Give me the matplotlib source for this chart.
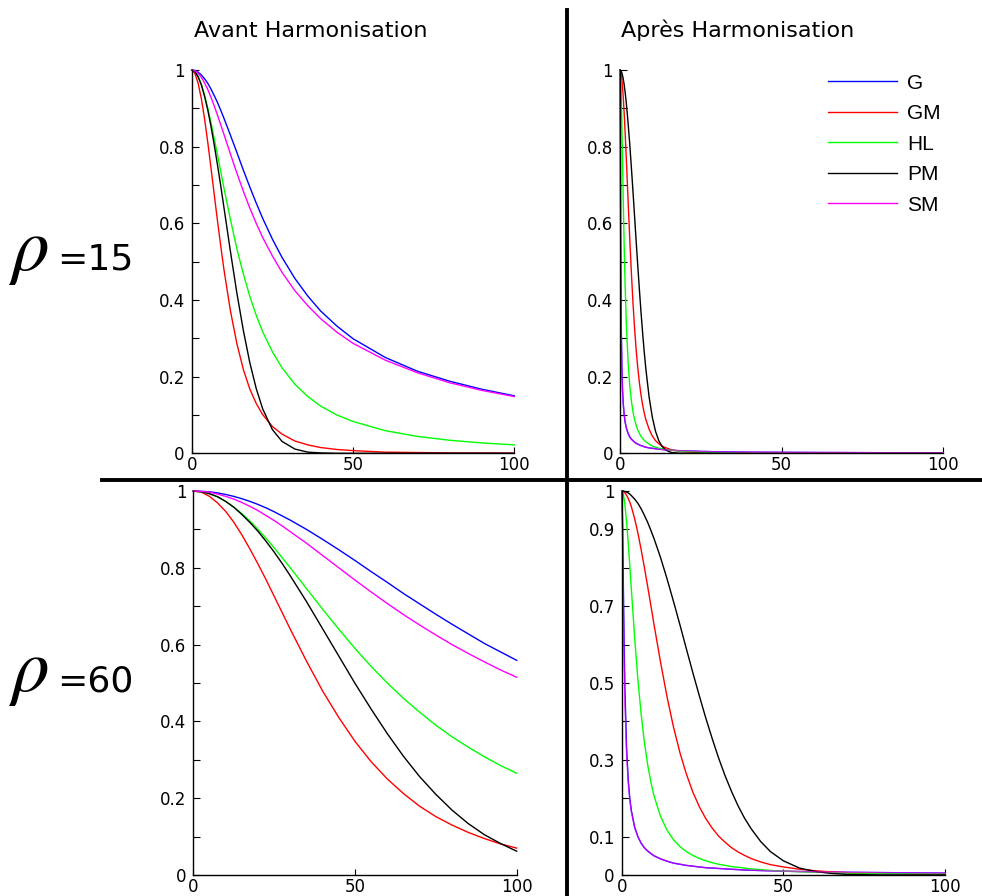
import matplotlib.pyplot as plt
from matplotlib.lines import Line2D

# --- valeurs (rho = 15, avant harmonisation) ---
x_tl = [0, 1, 2, 3, 4, 5, 6, 7, 8, 9, 10, 12, 14, 16, 18, 20, 22, 25, 28, 32, 36, 40, 45,
        50, 60, 70, 80, 90, 100]
g_tl = [1, 0.999, 0.994, 0.987, 0.977, 0.965, 0.950, 0.933, 0.915, 0.895, 0.874, 0.830,
        0.785, 0.739, 0.695, 0.653, 0.613, 0.559, 0.511, 0.456, 0.410, 0.371, 0.332, 0.299,
        0.250, 0.214, 0.188, 0.167, 0.150]
gm_tl = [1, 0.991, 0.965, 0.925, 0.872, 0.810, 0.743, 0.674, 0.606, 0.541, 0.479, 0.372,
         0.286, 0.219, 0.168, 0.130, 0.101, 0.070, 0.050, 0.032, 0.022, 0.015, 0.010, 0.007,
         0.003, 0.002, 0.001, 0.001, 0.0005]
hl_tl = [1, 0.996, 0.983, 0.962, 0.934, 0.900, 0.862, 0.821, 0.779, 0.735, 0.692, 0.610,
         0.534, 0.468, 0.410, 0.360, 0.317, 0.265, 0.223, 0.180, 0.148, 0.123, 0.100, 0.083,
         0.059, 0.044, 0.034, 0.027, 0.022]
pm_tl = [1, 0.996, 0.982, 0.961, 0.931, 0.895, 0.852, 0.804, 0.752, 0.698, 0.641, 0.527,
         0.418, 0.321, 0.237, 0.169, 0.116, 0.062, 0.031, 0.011, 0.003, 0.001, 0, 0,
         0, 0, 0, 0, 0]
sm_tl = [1, 0.998, 0.991, 0.981, 0.966, 0.949, 0.928, 0.906, 0.882, 0.857, 0.832, 0.781,
         0.731, 0.684, 0.640, 0.600, 0.563, 0.515, 0.472, 0.424, 0.385, 0.351, 0.316, 0.287,
         0.243, 0.210, 0.184, 0.164, 0.148]

# --- rho = 15, apres harmonisation ---
x_tr = [0, 0.1, 0.2, 0.3, 0.4, 0.6, 0.8, 1.0, 1.3, 1.6, 2.0, 2.5, 3.0, 3.5, 4.0, 4.5, 5.0,
        5.5, 6.0, 6.5, 7.0, 7.5, 8.0, 9, 10, 11, 12, 13, 14, 15, 16, 18, 20, 25, 30, 40,
        50, 60, 70, 80, 90, 100]
g_tr = [1, 0.841, 0.593, 0.425, 0.324, 0.217, 0.163, 0.130, 0.100, 0.081, 0.065, 0.052,
        0.043, 0.037, 0.033, 0.029, 0.026, 0.024, 0.022, 0.020, 0.019, 0.017, 0.016, 0.014,
        0.013, 0.012, 0.011, 0.010, 0.009, 0.009, 0.008, 0.007, 0.0065, 0.005, 0.004, 0.003,
        0.0026, 0.0022, 0.0019, 0.0016, 0.0014, 0.0013]
gm_tr = [1, 0.999, 0.997, 0.993, 0.988, 0.974, 0.954, 0.930, 0.886, 0.835, 0.759, 0.660,
         0.563, 0.474, 0.395, 0.327, 0.270, 0.223, 0.184, 0.152, 0.126, 0.105, 0.088, 0.063,
         0.045, 0.033, 0.025, 0.019, 0.015, 0.012, 0.009, 0.006, 0.004, 0.002, 0.001, 0.0003,
         0.0001, 0, 0, 0, 0, 0]
hl_tr = [1, 0.995, 0.980, 0.956, 0.925, 0.845, 0.754, 0.662, 0.537, 0.434, 0.329, 0.239,
         0.179, 0.138, 0.109, 0.088, 0.073, 0.061, 0.052, 0.044, 0.039, 0.034, 0.030, 0.024,
         0.019, 0.016, 0.013, 0.012, 0.010, 0.009, 0.008, 0.006, 0.005, 0.003, 0.002, 0.001,
         0.001, 0.0005, 0.0004, 0.0003, 0.0002, 0.0002]
pm_tr = [1, 1.000, 0.999, 0.998, 0.996, 0.992, 0.985, 0.977, 0.961, 0.941, 0.910, 0.862,
         0.808, 0.748, 0.685, 0.619, 0.553, 0.489, 0.427, 0.368, 0.314, 0.264, 0.220, 0.147,
         0.094, 0.057, 0.033, 0.018, 0.010, 0.005, 0.002, 0.0005, 0.0001, 0, 0, 0,
         0, 0, 0, 0, 0, 0]
sm_tr = [1, 0.793, 0.545, 0.398, 0.309, 0.212, 0.160, 0.129, 0.100, 0.081, 0.065, 0.052,
         0.043, 0.037, 0.033, 0.029, 0.026, 0.024, 0.022, 0.020, 0.019, 0.017, 0.016, 0.014,
         0.013, 0.012, 0.011, 0.010, 0.009, 0.009, 0.008, 0.007, 0.0065, 0.005, 0.004, 0.003,
         0.0026, 0.0022, 0.0019, 0.0016, 0.0014, 0.0013]

# --- rho = 60, avant harmonisation ---
x_bl = [0, 2.5, 5, 7.5, 10, 12.5, 15, 17.5, 20, 22.5, 25, 27.5, 30, 35, 40, 45, 50, 55, 60,
        65, 70, 75, 80, 85, 90, 95, 100]
g_bl = [1, 0.999, 0.998, 0.995, 0.991, 0.986, 0.980, 0.973, 0.965, 0.956, 0.946, 0.935,
        0.924, 0.900, 0.874, 0.847, 0.819, 0.790, 0.762, 0.733, 0.706, 0.679, 0.653, 0.628,
        0.603, 0.581, 0.559]
gm_bl = [1, 0.997, 0.986, 0.969, 0.947, 0.919, 0.886, 0.849, 0.810, 0.769, 0.726, 0.683,
         0.640, 0.557, 0.479, 0.410, 0.348, 0.295, 0.250, 0.212, 0.179, 0.152, 0.130, 0.111,
         0.095, 0.081, 0.070]
hl_bl = [1, 0.998, 0.993, 0.985, 0.973, 0.958, 0.941, 0.922, 0.900, 0.877, 0.852, 0.826,
         0.800, 0.746, 0.692, 0.640, 0.590, 0.543, 0.500, 0.460, 0.424, 0.390, 0.360, 0.333,
         0.308, 0.285, 0.265]
pm_bl = [1, 0.998, 0.993, 0.985, 0.973, 0.958, 0.939, 0.918, 0.895, 0.869, 0.841, 0.811,
         0.779, 0.712, 0.641, 0.570, 0.499, 0.432, 0.368, 0.309, 0.256, 0.210, 0.169, 0.134,
         0.105, 0.082, 0.062]
sm_bl = [1, 0.999, 0.997, 0.992, 0.986, 0.979, 0.970, 0.960, 0.949, 0.936, 0.923, 0.909,
         0.894, 0.864, 0.832, 0.800, 0.768, 0.737, 0.707, 0.678, 0.651, 0.625, 0.600, 0.577,
         0.555, 0.534, 0.515]

# --- rho = 60, apres harmonisation ---
x_br = [0, 0.25, 0.5, 0.75, 1, 1.5, 2, 2.5, 3, 4, 5, 6, 7, 8, 9, 10, 12, 14, 16, 18, 20,
        22, 24, 26, 28, 30, 32, 34, 36, 38, 40, 43, 46, 50, 55, 60, 65, 70, 80, 90, 100]
g_br = [1, 0.924, 0.762, 0.603, 0.482, 0.332, 0.250, 0.200, 0.167, 0.125, 0.100, 0.083,
        0.071, 0.063, 0.056, 0.050, 0.042, 0.036, 0.031, 0.028, 0.025, 0.023, 0.021, 0.019,
        0.018, 0.017, 0.016, 0.015, 0.014, 0.013, 0.0125, 0.0116, 0.0109, 0.0100, 0.0091,
        0.0083, 0.0077, 0.0071, 0.0063, 0.0056, 0.0050]
gm_br = [1, 1.000, 0.999, 0.997, 0.995, 0.989, 0.981, 0.971, 0.959, 0.928, 0.891, 0.848,
         0.802, 0.753, 0.703, 0.652, 0.555, 0.465, 0.386, 0.319, 0.263, 0.216, 0.178, 0.147,
         0.122, 0.101, 0.085, 0.071, 0.060, 0.051, 0.043, 0.034, 0.027, 0.021, 0.015, 0.011,
         0.008, 0.006, 0.004, 0.002, 0.0016]
hl_br = [1, 0.998, 0.991, 0.979, 0.963, 0.920, 0.867, 0.806, 0.743, 0.619, 0.510, 0.420,
         0.347, 0.289, 0.243, 0.206, 0.153, 0.117, 0.092, 0.074, 0.061, 0.051, 0.043, 0.037,
         0.032, 0.028, 0.025, 0.022, 0.020, 0.018, 0.016, 0.014, 0.012, 0.010, 0.0085,
         0.0072, 0.0061, 0.0053, 0.0040, 0.0032, 0.0026]
pm_br = [1, 1.000, 1.000, 0.999, 0.999, 0.997, 0.995, 0.992, 0.988, 0.979, 0.968, 0.954,
         0.937, 0.919, 0.898, 0.876, 0.827, 0.772, 0.713, 0.652, 0.589, 0.527, 0.467, 0.409,
         0.355, 0.304, 0.258, 0.217, 0.180, 0.148, 0.121, 0.087, 0.061, 0.037, 0.018, 0.009,
         0.004, 0.0015, 0.0002, 0, 0]
sm_br = [1, 0.894, 0.707, 0.555, 0.447, 0.316, 0.243, 0.196, 0.164, 0.124, 0.100, 0.083,
         0.071, 0.062, 0.056, 0.050, 0.042, 0.036, 0.031, 0.028, 0.025, 0.023, 0.021, 0.019,
         0.018, 0.017, 0.016, 0.015, 0.014, 0.013, 0.0125, 0.0116, 0.0109, 0.0100, 0.0091,
         0.0083, 0.0077, 0.0071, 0.0063, 0.0056, 0.0050]

names = ["G", "GM", "HL", "PM", "SM"]
colors = ["#0000ff", "#ff0000", "#00ff00", "#000000", "#ff00ff"]

W, H = 982, 896


def box(left, top, right, bottom):  # position d'un axe en pixels -> fraction de figure
    return [left / W, 1 - bottom / H, (right - left) / W, (bottom - top) / H]


def setup_axes(ax, yticks, ylabels, yminor):
    ax.set_xlim(0, 100)
    ax.set_ylim(0, 1)
    ax.spines["top"].set_visible(False)
    ax.spines["right"].set_visible(False)
    ax.spines["left"].set_linewidth(1.0)
    ax.spines["bottom"].set_linewidth(1.0)
    ax.set_xticks([0, 50, 100])
    ax.set_xticklabels(["0", "50", "100"])
    ax.set_yticks(yticks)
    ax.set_yticklabels(ylabels)
    ax.set_yticks(yminor, minor=True)
    ax.tick_params(axis="y", which="both", direction="in", length=5, width=0.8,
                   labelsize=12, pad=5)
    ax.tick_params(axis="x", direction="in", length=4, width=0.8, labelsize=12, pad=2)


def draw_curves(ax, x, series, blend=False):
    lines = []
    for y, c in zip(series, colors):
        alpha = 0.65 if (blend and c == "#ff00ff") else 1.0
        (ln,) = ax.plot(x, y, color=c, lw=1.0, alpha=alpha, clip_on=False)
        lines.append(ln)
    return lines


plt.rcParams["font.family"] = ["DejaVu Sans"]
plt.rcParams["mathtext.fontset"] = "stix"
fig = plt.figure(figsize=(W / 100, H / 100), dpi=100)

ax_tl = fig.add_axes(box(191.7, 70, 514.3, 453.3))
ax_tr = fig.add_axes(box(620, 70, 943.3, 453.3))
ax_bl = fig.add_axes(box(193.3, 491, 516.7, 875))
ax_br = fig.add_axes(box(621.7, 491, 945, 875))

ticks_a = [0, 0.2, 0.4, 0.6, 0.8, 1]
labels_a = ["0", "0.2", "0.4", "0.6", "0.8", "1"]
minor_a = [0.1, 0.3, 0.5, 0.7, 0.9]
ticks_b = [0, 0.1, 0.3, 0.5, 0.7, 0.9, 1]
labels_b = ["0", "0.1", "0.3", "0.5", "0.7", "0.9", "1"]
minor_b = [0.2, 0.4, 0.6, 0.8]

setup_axes(ax_tl, ticks_a, labels_a, minor_a)
setup_axes(ax_tr, ticks_a, labels_a, minor_a)
setup_axes(ax_bl, ticks_a, labels_a, minor_a)
setup_axes(ax_br, ticks_b, labels_b, minor_b)

legend_lines = draw_curves(ax_tl, x_tl, [g_tl, gm_tl, hl_tl, pm_tl, sm_tl])
draw_curves(ax_tr, x_tr, [g_tr, gm_tr, hl_tr, pm_tr, sm_tr], blend=True)
draw_curves(ax_bl, x_bl, [g_bl, gm_bl, hl_bl, pm_bl, sm_bl])
draw_curves(ax_br, x_br, [g_br, gm_br, hl_br, pm_br, sm_br], blend=True)

# legende dans le panneau en haut a droite
ax_tr.legend(legend_lines, names, loc="upper left", frameon=False,
             bbox_to_anchor=(809 / W, 1 - 55 / H), bbox_transform=fig.transFigure,
             prop={"family": "Liberation Sans", "size": 15},
             handlelength=3.3, handletextpad=0.5, labelspacing=0.55, borderpad=0.4)

# titres des colonnes
fig.text(311 / W, 1 - 37 / H, "Avant Harmonisation", ha="center", va="baseline", fontsize=16)
fig.text(738 / W, 1 - 37 / H, "Après Harmonisation", ha="center", va="baseline", fontsize=16)

# etiquettes des lignes
for base, val in [(270, "=15"), (691, "=60")]:
    fig.text(8 / W, 1 - base / H, r"$\rho$", ha="left", va="baseline", fontsize=54)
    fig.text(57 / W, 1 - base / H, val, ha="left", va="baseline", fontsize=26)

# la croix de separation
fig.add_artist(Line2D([567 / W, 567 / W], [1 - 10 / H, 0], color="black", lw=2.8,
                      transform=fig.transFigure))
fig.add_artist(Line2D([102 / W, 1], [1 - 480 / H, 1 - 480 / H], color="black", lw=2.8,
                      transform=fig.transFigure))

fig.savefig("out.png", dpi=100)
